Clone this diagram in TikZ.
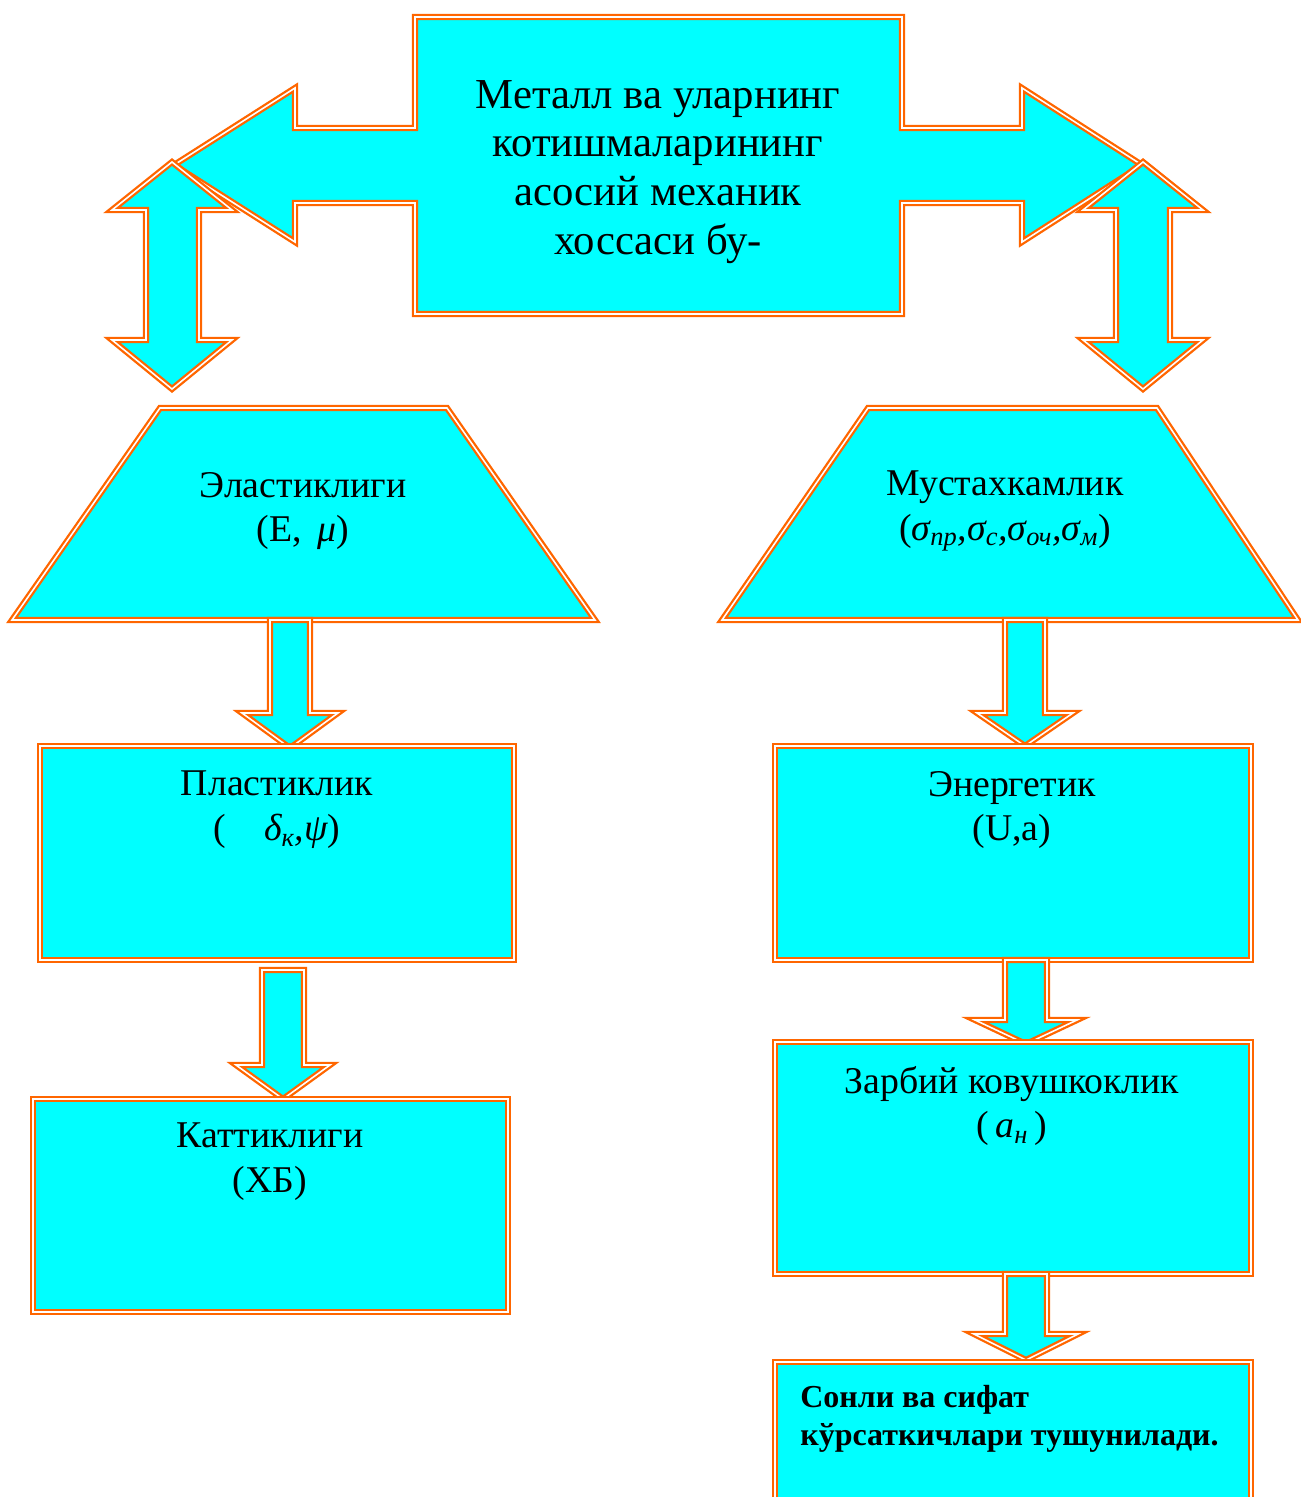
\documentclass[tikz,border=0pt]{standalone}
\usepackage{fontspec}
\setmainfont{Liberation Serif}

\definecolor{boxfill}{RGB}{0,255,255}
\definecolor{rim}{RGB}{255,102,0}

\begin{document}
\begin{tikzpicture}[x=0.02cm, y=-0.02cm, line join=miter,
    blk/.style={fill=boxfill, draw=rim, double=white, line width=1.3pt, double distance=0.9pt},
    lbl/.style={font=\fontsize{21.5}{25.5}\selectfont, align=center, inner sep=0pt},
    toplbl/.style={font=\fontsize{24.3}{27.8}\selectfont, align=center, inner sep=0pt}]
  \clip (0,0) rectangle (1301,1497);

  % top box with the two side arrows
  \draw[blk] (415,17) -- (902,17) -- (902,128) -- (1022,128) -- (1022,88) -- (1142,165)
    -- (1022,242) -- (1022,203) -- (902,203) -- (902,314) -- (415,314) -- (415,203)
    -- (295,203) -- (295,242) -- (174,165) -- (295,88) -- (295,128) -- (415,128) -- cycle;
  \node[toplbl] (title) at (658,172) {Металл ва уларнинг\\котишмаларининг\\асосий механик\\хоссаси бу-};

  % double arrows
  \draw[blk] (172,162) -- (232,210) -- (199,210) -- (199,340) -- (232,340) -- (172,389)
    -- (112,340) -- (146,340) -- (146,210) -- (112,210) -- cycle;
  \draw[blk] (1143,162) -- (1203,210) -- (1170,210) -- (1170,340) -- (1203,340) -- (1143,389)
    -- (1083,340) -- (1116,340) -- (1116,210) -- (1083,210) -- cycle;

  % trapezoids
  \draw[blk] (160,408) -- (447,408) -- (595,620) -- (12,620) -- cycle;
  \node[lbl] (elast) at (303,511) {Эластиклиги\\(E,\, \textit{μ})};
  \draw[blk] (868,408) -- (1157,408) -- (1298,620) -- (722,620) -- cycle;
  \node[lbl] (must) at (1005,511) {Мустахкамлик\\({\itshape σ\textsubscript{пр},σ\textsubscript{с},σ\textsubscript{оч},σ\textsubscript{м}})};

  % left column
  \draw[blk] (270,620) -- (310,620) -- (310,713) -- (338,713) -- (290,748) -- (242,713)
    -- (270,713) -- cycle;
  \draw[blk] (40,746) rectangle (514,960);
  \node[lbl] (plast) at (277,810) {Пластиклик\\(\quad{\itshape δ\textsubscript{к},ψ})};
  \draw[blk] (262,970) -- (304,970) -- (304,1065) -- (330,1065) -- (283,1099) -- (236,1065)
    -- (262,1065) -- cycle;
  \draw[blk] (33,1099) rectangle (508,1312);
  \node[lbl] (katt) at (270,1162) {Каттиклиги\\(ХБ)};

  % right column
  \draw[blk] (1005,620) -- (1045,620) -- (1045,713) -- (1073,713) -- (1025,746) -- (977,713)
    -- (1005,713) -- cycle;
  \draw[blk] (775,746) rectangle (1251,960);
  \node[lbl] (energ) at (1012,810) {Энергетик\\(U,a)};
  \draw[blk] (1005,960) -- (1047,960) -- (1047,1020) -- (1077,1020) -- (1026,1044) -- (975,1020)
    -- (1005,1020) -- cycle;
  \draw[blk] (775,1042) rectangle (1251,1274);
  \node[lbl] (zarb) at (1012,1106) {Зарбий ковушкоклик\\(\,\textit{а\textsubscript{н}}\,)};
  \draw[blk] (1005,1274) -- (1047,1274) -- (1047,1334) -- (1078,1334) -- (1026,1360) -- (974,1334)
    -- (1005,1334) -- cycle;
  \draw[blk] (775,1362) rectangle (1251,1520);
  \node[font=\fontsize{18.2}{21.5}\selectfont\bfseries, align=left, inner sep=0pt, anchor=west]
    (sonli) at (800,1419) {Сонли ва сифат\\кўрсаткичлари тушунилади.};
\end{tikzpicture}
\end{document}
